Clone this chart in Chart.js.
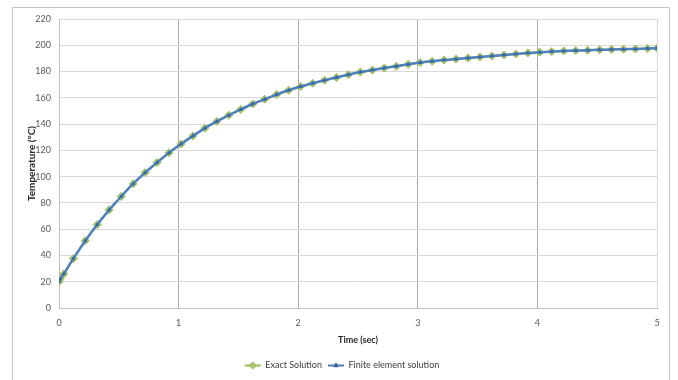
<!DOCTYPE html>
<html>
<head>
<meta charset="utf-8">
<script src="https://cdn.jsdelivr.net/npm/chart.js@4.4.1/dist/chart.umd.min.js"></script>
<style>
  html, body { margin: 0; padding: 0; background: #ffffff; }
  #wrap { position: relative; width: 678px; height: 380px; overflow: hidden; }
  #frame { position: absolute; left: 12px; top: 7px; width: 658px; height: 390px; border: 1.5px solid #c4c4c4; box-sizing: border-box; pointer-events: none; }
  canvas { position: absolute; left: 0; top: 0; }
</style>
</head>
<body>
<div id="wrap">
  <canvas id="c" width="678" height="380"></canvas>
  <div id="frame"></div>
</div>
<script>
// ---- data ----
const timeValues = [0, 0.01, 0.04, 0.12, 0.22, 0.32, 0.42, 0.52, 0.62, 0.72, 0.82, 0.92,
  1.02, 1.12, 1.22, 1.32, 1.42, 1.52, 1.62, 1.72, 1.82, 1.92, 2.02, 2.12, 2.22, 2.32,
  2.42, 2.52, 2.62, 2.72, 2.82, 2.92, 3.02, 3.12, 3.22, 3.32, 3.42, 3.52, 3.62, 3.72,
  3.82, 3.92, 4.02, 4.12, 4.22, 4.32, 4.42, 4.52, 4.62, 4.72, 4.82, 4.92, 5.0];
const exactValues = [20, 22, 26, 37.6, 51.2, 63.5, 74.7, 84.9, 94.6, 103.1, 110.8, 118.2,
  124.8, 131, 136.9, 142, 146.8, 151.2, 155.3, 158.9, 162.5, 165.8, 168.6, 171.1, 173.4, 175.5,
  177.6, 179.6, 181.1, 182.7, 184, 185.5, 186.8, 187.8, 188.8, 189.5, 190.3, 191.1, 191.9, 192.6,
  193.4, 194.2, 194.7, 195.2, 195.7, 196, 196.2, 196.5, 196.8, 197, 197.2, 197.5, 197.8];
const feValues = [20, 22, 26, 37.6, 51.2, 63.5, 74.7, 84.9, 94.6, 103.1, 110.8, 118.2,
  124.8, 131, 136.9, 142, 146.8, 151.2, 155.3, 158.9, 162.5, 165.8, 168.6, 171.1, 173.4, 175.5,
  177.6, 179.6, 181.1, 182.7, 184, 185.5, 186.8, 187.8, 188.8, 189.5, 190.3, 191.1, 191.9, 192.6,
  193.4, 194.2, 194.7, 195.2, 195.7, 196, 196.2, 196.5, 196.8, 197, 197.2, 197.5, 197.8];
const xTicks = [0, 1, 2, 3, 4, 5];
const yTicks = [0, 20, 40, 60, 80, 100, 120, 140, 160, 180, 200, 220];
const seriesNames = ['Exact Solution', 'Finite element solution'];
const xTitle = 'Time (sec)';
const yTitle = 'Temperature (°C)';

const FONT = 'Lato, "Liberation Sans", Arial, sans-serif';
const GREEN = '#9BBB59';
const BLUE = '#4F81BD';
const BLUE_PT = '#2F64A6';

const toXY = (xs, ys) => xs.map((x, i) => ({ x: x, y: ys[i] }));

const legendMarkers = {
  id: 'legendMarkers',
  afterDraw(chart) {
    const lg = chart.legend;
    if (!lg || !lg.legendHitBoxes) return;
    const ctx = chart.ctx;
    const bw = lg.options.labels.boxWidth;
    lg.legendHitBoxes.forEach((hb, i) => {
      const ds = chart.data.datasets[i];
      const cy = hb.top + hb.height / 2;
      ctx.save();
      ctx.strokeStyle = ds.borderColor;
      ctx.lineWidth = 2;
      ctx.beginPath();
      ctx.moveTo(hb.left, cy);
      ctx.lineTo(hb.left + bw, cy);
      ctx.stroke();
      ctx.fillStyle = ds.pointBackgroundColor;
      ctx.strokeStyle = ds.pointBorderColor;
      ctx.lineWidth = 1;
      Chart.helpers.drawPoint(ctx, { pointStyle: ds.pointStyle, radius: i === 0 ? 3.5 : 2.5, borderWidth: 1, rotation: 0 }, hb.left + bw / 2, cy);
      ctx.restore();
    });
  }
};

new Chart(document.getElementById('c'), {
  type: 'line',
  data: {
    datasets: [
      {
        label: seriesNames[0],
        data: toXY(timeValues, exactValues),
        order: 2,
        borderColor: GREEN,
        backgroundColor: GREEN,
        borderWidth: 2,
        pointStyle: 'rectRot',
        pointRadius: 4,
        pointBackgroundColor: '#A9C66E',
        pointBorderColor: GREEN,
        pointBorderWidth: 1,
        tension: 0.2
      },
      {
        label: seriesNames[1],
        data: toXY(timeValues, feValues),
        order: 1,
        borderColor: BLUE,
        backgroundColor: BLUE,
        borderWidth: 2.5,
        pointStyle: 'triangle',
        pointRadius: 2,
        pointBackgroundColor: BLUE_PT,
        pointBorderColor: BLUE_PT,
        pointBorderWidth: 0.5,
        tension: 0.2
      }
    ]
  },
  options: {
    responsive: false,
    animation: false,
    events: [],
    layout: { padding: { left: 27, right: 21, top: 19, bottom: 0 } },
    plugins: {
      tooltip: { enabled: false },
      legend: {
        position: 'bottom',
        labels: {
          boxWidth: 16,
          boxHeight: 2,
          padding: 6,
          color: '#404040',
          font: { family: FONT, size: 9 },
          sort: (a, b) => a.datasetIndex - b.datasetIndex,
          generateLabels(chart) {
            return chart.data.datasets.map((ds, i) => ({
              text: ds.label,
              fillStyle: 'rgba(0,0,0,0)',
              strokeStyle: 'rgba(0,0,0,0)',
              lineWidth: 0,
              fontColor: '#404040',
              datasetIndex: i,
              hidden: false
            }));
          }
        }
      }
    },
    scales: {
      x: {
        type: 'linear',
        min: 0,
        max: 5,
        afterBuildTicks(scale) { scale.ticks = xTicks.map(v => ({ value: v })); },
        afterFit(scale) { scale.height = 47; },
        ticks: { color: '#595959', font: { family: FONT, size: 9 }, padding: 10, maxRotation: 0 },
        grid: {
          drawTicks: false,
          color: ctx => (ctx.tick && ctx.tick.value === 5) ? '#D9D9D9' : '#ADADAD',
          lineWidth: 1
        },
        border: { color: '#BFBFBF', width: 1 },
        title: { display: true, text: xTitle, color: '#262626', font: { family: FONT, size: 9, weight: 'bold' }, padding: { top: 0, bottom: 10 } }
      },
      y: {
        min: 0,
        max: 220,
        afterBuildTicks(scale) { scale.ticks = yTicks.map(v => ({ value: v })); },
        afterFit(scale) { scale.width = 32; },
        ticks: { color: '#595959', font: { family: FONT, size: 9 }, padding: 8 },
        grid: { drawTicks: false, color: '#D9D9D9', lineWidth: 1 },
        border: { color: '#BFBFBF', width: 1 },
        title: { display: true, text: yTitle, color: '#262626', font: { family: FONT, size: 10, weight: 'bold' }, padding: { top: -1, bottom: 0 } }
      }
    }
  },
  plugins: [legendMarkers]
});
</script>
</body>
</html>
